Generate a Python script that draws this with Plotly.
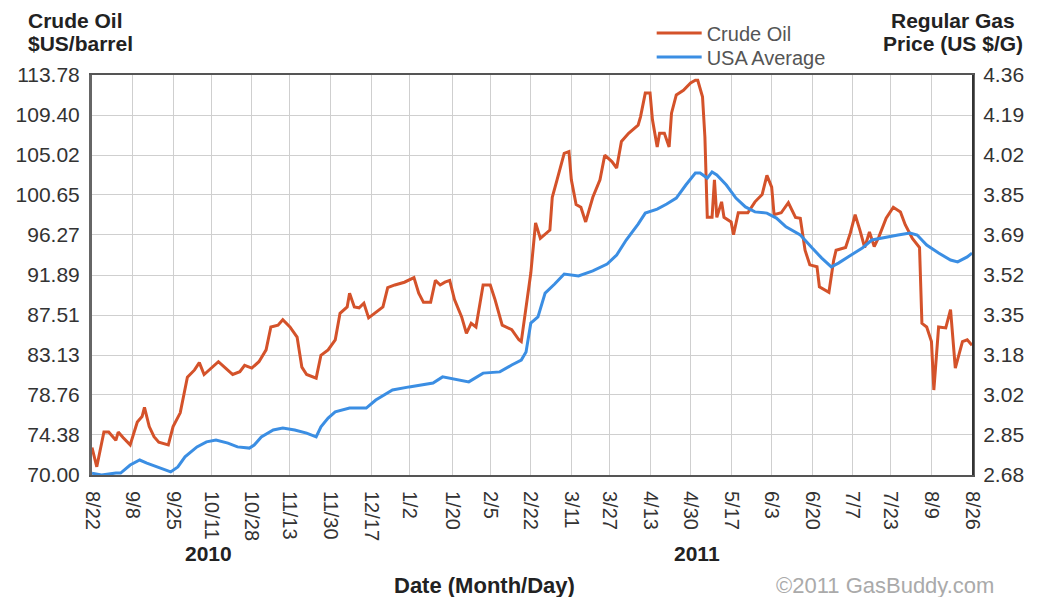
import plotly.graph_objects as go

# crude oil ($US/barrel)
crude_dates = [
    "2010-08-22", "2010-08-24", "2010-08-27", "2010-08-29", "2010-09-01", "2010-09-02",
    "2010-09-04", "2010-09-07", "2010-09-10", "2010-09-12", "2010-09-13", "2010-09-15",
    "2010-09-17", "2010-09-19", "2010-09-23", "2010-09-25", "2010-09-28", "2010-10-01",
    "2010-10-04", "2010-10-06", "2010-10-08", "2010-10-11", "2010-10-14", "2010-10-17",
    "2010-10-20", "2010-10-23", "2010-10-25", "2010-10-28", "2010-10-31", "2010-11-03",
    "2010-11-05", "2010-11-08", "2010-11-10", "2010-11-13", "2010-11-16", "2010-11-18",
    "2010-11-20", "2010-11-24", "2010-11-26", "2010-11-29", "2010-12-02", "2010-12-04",
    "2010-12-07", "2010-12-08", "2010-12-10", "2010-12-12", "2010-12-14", "2010-12-16",
    "2010-12-19", "2010-12-22", "2010-12-24", "2010-12-27", "2010-12-31", "2011-01-04",
    "2011-01-06", "2011-01-08", "2011-01-11", "2011-01-13", "2011-01-15", "2011-01-17",
    "2011-01-19", "2011-01-21", "2011-01-24", "2011-01-26", "2011-01-28", "2011-01-30",
    "2011-02-02", "2011-02-05", "2011-02-07", "2011-02-10", "2011-02-14", "2011-02-17",
    "2011-02-18", "2011-02-20", "2011-02-22", "2011-02-24", "2011-02-26", "2011-03-02",
    "2011-03-03", "2011-03-05", "2011-03-08", "2011-03-10", "2011-03-11", "2011-03-13",
    "2011-03-15", "2011-03-17", "2011-03-20", "2011-03-23", "2011-03-25", "2011-03-28",
    "2011-03-30", "2011-04-01", "2011-04-04", "2011-04-08", "2011-04-09", "2011-04-11",
    "2011-04-13", "2011-04-14", "2011-04-16", "2011-04-17", "2011-04-19", "2011-04-21",
    "2011-04-22", "2011-04-24", "2011-04-27", "2011-04-30", "2011-05-02", "2011-05-03",
    "2011-05-05", "2011-05-06", "2011-05-07", "2011-05-09", "2011-05-10", "2011-05-11",
    "2011-05-13", "2011-05-14", "2011-05-17", "2011-05-18", "2011-05-20", "2011-05-24",
    "2011-05-27", "2011-05-30", "2011-06-01", "2011-06-03", "2011-06-04", "2011-06-07",
    "2011-06-10", "2011-06-13", "2011-06-15", "2011-06-17", "2011-06-19", "2011-06-22",
    "2011-06-23", "2011-06-27", "2011-06-29", "2011-06-30", "2011-07-04", "2011-07-06",
    "2011-07-08", "2011-07-10", "2011-07-12", "2011-07-14", "2011-07-16", "2011-07-18",
    "2011-07-21", "2011-07-24", "2011-07-27", "2011-07-29", "2011-08-01", "2011-08-04",
    "2011-08-05", "2011-08-07", "2011-08-09", "2011-08-10", "2011-08-12", "2011-08-15",
    "2011-08-17", "2011-08-19", "2011-08-20", "2011-08-22", "2011-08-24", "2011-08-26",
]
crude_price = [
    73.0, 70.9, 74.7, 74.7, 73.8, 74.7,
    74.1, 73.3, 75.8, 76.4, 77.4, 75.3,
    74.2, 73.6, 73.3, 75.3, 76.8, 80.7,
    81.5, 82.3, 81.0, 81.7, 82.4, 81.7,
    81.0, 81.3, 82.0, 81.7, 82.4, 83.7,
    86.2, 86.4, 87.0, 86.2, 85.1, 81.8,
    81.0, 80.6, 83.1, 83.7, 84.8, 87.7,
    88.4, 89.9, 88.4, 88.3, 88.8, 87.2,
    87.8, 88.4, 90.5, 90.8, 91.1, 91.6,
    89.9, 88.9, 88.9, 91.3, 90.8, 91.1,
    91.3, 89.2, 87.3, 85.5, 86.6, 86.2,
    90.8, 90.8, 89.2, 86.4, 85.9, 84.8,
    84.6, 88.1, 92.1, 97.6, 95.9, 96.8,
    100.4, 102.3, 105.2, 105.4, 102.3, 99.6,
    99.3, 97.7, 100.4, 102.3, 105.0, 104.3,
    103.6, 106.5, 107.4, 108.3, 109.2, 111.8,
    111.8, 108.9, 105.9, 107.4, 107.4, 105.9,
    109.6, 111.6, 112.1, 112.9, 113.2, 113.2,
    111.4, 107.0, 98.2, 98.2, 102.3, 98.2,
    99.9, 98.2, 97.7, 96.3, 98.7, 98.7,
    99.9, 100.7, 102.8, 101.5, 98.5, 98.7,
    99.8, 98.2, 98.1, 94.6, 93.0, 92.8,
    90.6, 90.0, 93.5, 94.6, 94.9, 96.5,
    98.5, 96.8, 94.9, 96.6, 95.0, 96.1,
    98.1, 99.3, 98.8, 97.4, 95.9, 94.9,
    86.6, 86.2, 84.6, 79.3, 86.2, 86.1,
    88.1, 81.7, 82.6, 84.6, 84.8, 84.2,
]

# USA average regular gas (US $/G)
gas_dates = [
    "2010-08-22", "2010-08-26", "2010-09-01", "2010-09-03", "2010-09-07", "2010-09-11",
    "2010-09-14", "2010-09-18", "2010-09-24", "2010-09-27", "2010-09-30", "2010-10-05",
    "2010-10-09", "2010-10-13", "2010-10-18", "2010-10-22", "2010-10-27", "2010-10-29",
    "2010-11-01", "2010-11-06", "2010-11-10", "2010-11-15", "2010-11-20", "2010-11-24",
    "2010-11-26", "2010-11-29", "2010-12-02", "2010-12-08", "2010-12-15", "2010-12-19",
    "2010-12-26", "2011-01-02", "2011-01-12", "2011-01-16", "2011-01-22", "2011-01-27",
    "2011-02-02", "2011-02-09", "2011-02-14", "2011-02-18", "2011-02-20", "2011-02-22",
    "2011-02-25", "2011-02-28", "2011-03-04", "2011-03-08", "2011-03-14", "2011-03-20",
    "2011-03-26", "2011-03-30", "2011-04-03", "2011-04-08", "2011-04-11", "2011-04-16",
    "2011-04-20", "2011-04-24", "2011-04-28", "2011-05-02", "2011-05-04", "2011-05-07",
    "2011-05-09", "2011-05-11", "2011-05-15", "2011-05-19", "2011-05-23", "2011-05-27",
    "2011-06-01", "2011-06-05", "2011-06-09", "2011-06-15", "2011-06-20", "2011-06-24",
    "2011-06-28", "2011-07-01", "2011-07-05", "2011-07-11", "2011-07-15", "2011-07-21",
    "2011-07-26", "2011-07-31", "2011-08-03", "2011-08-07", "2011-08-12", "2011-08-17",
    "2011-08-20", "2011-08-24", "2011-08-26",
]
gas_price = [
    2.688, 2.680, 2.688, 2.688, 2.722, 2.743,
    2.730, 2.714, 2.693, 2.714, 2.756, 2.798,
    2.819, 2.827, 2.814, 2.798, 2.793, 2.806,
    2.840, 2.869, 2.877, 2.869, 2.856, 2.840,
    2.882, 2.919, 2.945, 2.961, 2.961, 2.995,
    3.037, 3.050, 3.066, 3.092, 3.079, 3.071,
    3.108, 3.113, 3.142, 3.163, 3.197, 3.318,
    3.344, 3.444, 3.482, 3.524, 3.516, 3.537,
    3.566, 3.604, 3.667, 3.734, 3.780, 3.797,
    3.818, 3.843, 3.898, 3.948, 3.948, 3.927,
    3.953, 3.940, 3.898, 3.843, 3.806, 3.785,
    3.780, 3.759, 3.722, 3.688, 3.633, 3.591,
    3.554, 3.570, 3.596, 3.633, 3.667, 3.680,
    3.688, 3.696, 3.688, 3.646, 3.612, 3.583,
    3.575, 3.596, 3.612,
]

x_tick_dates = [
    "2010-08-22", "2010-09-08", "2010-09-25", "2010-10-11", "2010-10-28", "2010-11-13",
    "2010-11-30", "2010-12-17", "2011-01-02", "2011-01-20", "2011-02-05", "2011-02-22",
    "2011-03-11", "2011-03-27", "2011-04-13", "2011-04-30", "2011-05-17", "2011-06-03",
    "2011-06-20", "2011-07-07", "2011-07-23", "2011-08-09", "2011-08-26",
]
x_tick_labels = [
    "8/22", "9/8", "9/25", "10/11", "10/28", "11/13", "11/30", "12/17", "1/2", "1/20",
    "2/5", "2/22", "3/11", "3/27", "4/13", "4/30", "5/17", "6/3", "6/20", "7/7",
    "7/23", "8/9", "8/26",
]
crude_ticks = [70.00, 74.38, 78.76, 83.13, 87.51, 91.89, 96.27, 100.65, 105.02, 109.40, 113.78]
crude_tick_labels = ["70.00", "74.38", "78.76", "83.13", "87.51", "91.89", "96.27",
                     "100.65", "105.02", "109.40", "113.78"]
gas_ticks = [2.68, 2.848, 3.016, 3.184, 3.352, 3.52, 3.688, 3.856, 4.024, 4.192, 4.36]
gas_tick_labels = ["2.68", "2.85", "3.02", "3.18", "3.35", "3.52", "3.69", "3.85",
                   "4.02", "4.19", "4.36"]

FONT = "Liberation Sans, Arial, sans-serif"
DARK = "#222"

fig = go.Figure()
fig.add_trace(go.Scatter(x=crude_dates, y=crude_price, name="Crude Oil", mode="lines",
                         line=dict(color="#d4522a", width=3), legend="legend"))
fig.add_trace(go.Scatter(x=gas_dates, y=gas_price, name="USA Average", mode="lines",
                         line=dict(color="#3b8ee3", width=3), yaxis="y2", legend="legend2"))

# the page body has an 8px margin, so the figure is 8px smaller than the window
fig.update_layout(
    width=1029, height=589,
    margin=dict(l=84, r=65, t=67, b=122, autoexpand=False),
    paper_bgcolor="white", plot_bgcolor="white",
    font=dict(family=FONT, size=20, color="#333"),
    xaxis=dict(type="date", range=["2010-08-22", "2011-08-26"],
               tickvals=x_tick_dates, ticktext=x_tick_labels, tickangle=90,
               showgrid=True, gridcolor="#cfcfcf", gridwidth=1,
               showline=True, linecolor="#555", linewidth=2, mirror=True,
               ticks="", ticklabelstandoff=10, tickfont=dict(size=20, color="#333")),
    yaxis=dict(range=[70.0, 113.78], tickvals=crude_ticks, ticktext=crude_tick_labels,
               showgrid=True, gridcolor="#cfcfcf", gridwidth=1, zeroline=False,
               showline=True, linecolor="#666", linewidth=3, mirror=True,
               ticks="", ticklabelstandoff=5, tickfont=dict(size=21, color="#333")),
    yaxis2=dict(range=[2.68, 4.36], tickvals=gas_ticks, ticktext=gas_tick_labels,
                overlaying="y", side="right", showgrid=False, zeroline=False,
                showline=True, linecolor="#333", linewidth=2,
                ticks="", ticklabelstandoff=5, tickfont=dict(size=21, color="#333")),
    legend=dict(x=0.636, y=1.105, xanchor="left", yanchor="middle", itemwidth=45,
                bgcolor="rgba(0,0,0,0)", font=dict(size=20, color="#555")),
    legend2=dict(x=0.636, y=1.045, xanchor="left", yanchor="middle", itemwidth=45,
                 bgcolor="rgba(0,0,0,0)", font=dict(size=20, color="#555")),
    showlegend=True,
)

fig.add_annotation(text="<b>Crude Oil</b>", xref="paper", yref="paper",
                   x=-0.075, y=1.137, xanchor="left", yanchor="middle",
                   showarrow=False, font=dict(size=21, color=DARK))
fig.add_annotation(text="<b>$US/barrel</b>", xref="paper", yref="paper",
                   x=-0.075, y=1.0795, xanchor="left", yanchor="middle",
                   showarrow=False, font=dict(size=21, color=DARK))
fig.add_annotation(text="<b>Regular Gas</b>", xref="paper", yref="paper",
                   x=0.978, y=1.137, xanchor="center", yanchor="middle",
                   showarrow=False, font=dict(size=21, color=DARK))
fig.add_annotation(text="<b>Price (US $/G)</b>", xref="paper", yref="paper",
                   x=0.978, y=1.0795, xanchor="center", yanchor="middle",
                   showarrow=False, font=dict(size=21, color=DARK))
fig.add_annotation(text="<b>2010</b>", xref="paper", yref="paper", x=0.132, y=-0.195,
                   xanchor="center", yanchor="middle",
                   showarrow=False, font=dict(size=21, color=DARK))
fig.add_annotation(text="<b>2011</b>", xref="paper", yref="paper", x=0.6875, y=-0.195,
                   xanchor="center", yanchor="middle",
                   showarrow=False, font=dict(size=21, color=DARK))
fig.add_annotation(text="<b>Date (Month/Day)</b>", xref="paper", yref="paper", x=0.4455,
                   y=-0.275, xanchor="center", yanchor="middle",
                   showarrow=False, font=dict(size=22, color=DARK))
fig.add_annotation(text="©2011 GasBuddy.com", xref="paper", yref="paper", x=0.901,
                   y=-0.275, xanchor="center", yanchor="middle",
                   showarrow=False, font=dict(size=22, color="#aaa"))

fig.write_html("out.html")
